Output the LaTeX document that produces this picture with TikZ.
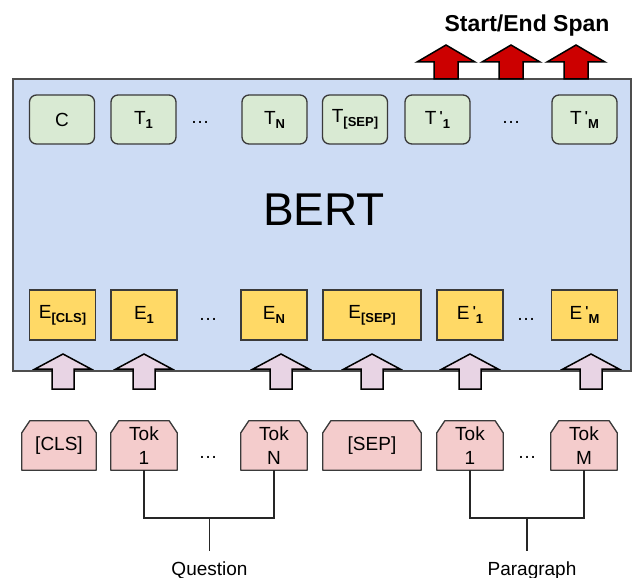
\documentclass[tikz,border=0pt]{standalone}
\usepackage{fontspec}
\setmainfont{Liberation Sans}
\usetikzlibrary{backgrounds}

\definecolor{bertblue}{HTML}{CDDCF4}
\definecolor{tgreen}{HTML}{D9EAD3}
\definecolor{eyellow}{HTML}{FFD966}
\definecolor{tpink}{HTML}{F4CCCC}
\definecolor{inpink}{HTML}{E8D4E4}
\definecolor{outred}{HTML}{CC0000}
\definecolor{boxline}{HTML}{3A3A3A}

\newcommand{\boxfont}{\fontsize{19}{24}\selectfont}
\newcommand{\lsub}[2]{#1\raisebox{-4pt}{\bfseries\fontsize{13}{13}\selectfont #2}}
\newcommand{\lpsub}[2]{#1\,\raisebox{4pt}{\bfseries\fontsize{13}{13}\selectfont\textquotesingle}\raisebox{-4pt}{\bfseries\fontsize{13}{13}\selectfont #2}}

\begin{document}
\begin{tikzpicture}[x=1pt,y=-1pt,
    tbox/.style={draw=boxline,line width=1.3pt,fill=tgreen,rounded corners=7pt,
        minimum width=65pt,minimum height=49pt,inner sep=0pt,font=\boxfont},
    ebox/.style={draw=boxline,line width=1.3pt,fill=eyellow,
        minimum width=66pt,minimum height=50pt,inner sep=0pt,font=\boxfont},
    tokbox/.style={minimum width=66pt,minimum height=49pt,inner sep=0pt,align=center,font=\boxfont},
    tokshape/.style={draw=boxline,line width=1.3pt,fill=tpink,line join=round},
    dots/.style={anchor=base,font=\boxfont},
    inarrow/.style={draw=black,line width=1.5pt,fill=inpink},
    outarrow/.style={draw=black,line width=1.5pt,fill=outred},
    bracket/.style={draw=black!85,line width=1.3pt}]
    \useasboundingbox (0,0) rectangle (635,578);

    % BERT block
    \node[draw=boxline!90,line width=1.3pt,fill=bertblue,minimum width=618pt,minimum height=292pt] (bert) at (322,225) {};
    \node[anchor=base,font=\fontsize{46}{46}\selectfont] (bertlabel) at (324,225) {BERT};

    % output row
    \node[tbox] (c)    at (62,119.5)    {C};
    \node[tbox] (t1)   at (143.5,119.5) {\lsub{T}{1}};
    \node[dots] (tdotsq) at (200,124)   {\dots};
    \node[tbox] (tn)   at (274.5,119.5) {\lsub{T}{N}};
    \node[tbox] (tsep) at (355,119.5)   {\lsub{T}{[SEP]}};
    \node[tbox] (tp1)  at (437.5,119.5) {\lpsub{T}{1}};
    \node[dots] (tdotsp) at (511,124)   {\dots};
    \node[tbox] (tpm)  at (584.5,119.5) {\lpsub{T}{M}};

    % embedding row
    \node[ebox] (ecls) at (62.5,315)                  {\lsub{E}{[CLS]}};
    \node[ebox] (e1)   at (144,315)                   {\lsub{E}{1}};
    \node[dots] (edotsq) at (208,320)                 {\dots};
    \node[ebox] (en)   at (274,315)                   {\lsub{E}{N}};
    \node[ebox,minimum width=98pt] (esep) at (372,315) {\lsub{E}{[SEP]}};
    \node[ebox] (ep1)  at (470,315)                   {\lpsub{E}{1}};
    \node[dots] (edotsp) at (526,320)                 {\dots};
    \node[ebox] (epm)  at (584.5,315)                 {\lpsub{E}{M}};

    % input tokens
    \node[tokbox,minimum width=74pt] (cls) at (59,445.5) {[CLS]};
    \node[tokbox] (tq1) at (144,445.5) {Tok\\1};
    \node[dots] (kdotsq) at (208,458)  {\dots};
    \node[tokbox] (tqn) at (274,445.5) {Tok\\N};
    \node[tokbox,minimum width=98pt] (sep) at (372,445.5) {[SEP]};
    \node[tokbox] (tp1) at (470,445.5) {Tok\\1};
    \node[dots] (kdotsp) at (527,458)  {\dots};
    \node[tokbox] (tpm) at (584,445.5) {Tok\\M};
    \begin{pgfonlayer}{background}
        \foreach \n in {cls,tq1,tqn,sep,tp1,tpm}
            \filldraw[tokshape] (\n.south west) -- ([yshift=-12pt]\n.north west)
                -- ([xshift=8pt]\n.north west) -- ([xshift=-8pt]\n.north east)
                -- ([yshift=-12pt]\n.north east) -- (\n.south east) -- cycle;
    \end{pgfonlayer}

    % input arrows
    \foreach \cx in {63,144,281,372,470,591}
        \filldraw[inarrow] (\cx-11,389) -- (\cx-11,369) -- (\cx-28,369) -- (\cx,354)
            -- (\cx+28,369) -- (\cx+11,369) -- (\cx+11,389) -- cycle;

    % output arrows
    \foreach \cx in {446,511,576}
        \filldraw[outarrow] (\cx-12,79) -- (\cx-12,62) -- (\cx-29,62) -- (\cx,45)
            -- (\cx+29,62) -- (\cx+12,62) -- (\cx+12,79) -- cycle;
    \node[anchor=base,font=\bfseries\fontsize{23}{23}\selectfont] (span) at (527,32) {Start/End Span};

    % question and paragraph brackets
    \coordinate (qmid) at (209.5,518);
    \coordinate (qend) at (209.5,551);
    \coordinate (pmid) at (527,518);
    \coordinate (pend) at (527,551);
    \draw[bracket] (tq1.south) |- (qmid) -| (tqn.south);
    \draw[bracket] (qmid) -- (qend);
    \draw[bracket] (tp1.south) |- (pmid) -| (tpm.south);
    \draw[bracket] (pmid) -- (pend);
    \node[anchor=base,font=\fontsize{19}{19}\selectfont] (question) at (209.5,575) {Question};
    \node[anchor=base,font=\fontsize{19}{19}\selectfont] (paragraph) at (532,575) {Paragraph};
\end{tikzpicture}
\end{document}
